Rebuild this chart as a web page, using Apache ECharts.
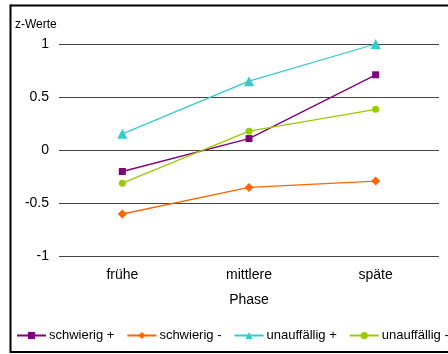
<!DOCTYPE html>
<html>
<head>
<meta charset="utf-8">
<script src="https://cdn.jsdelivr.net/npm/echarts@6/dist/echarts.min.js"></script>
<style>
  html, body { margin: 0; padding: 0; background: #fff; overflow: hidden; }
  #chart { width: 448px; height: 354px; }
</style>
</head>
<body>
<div id="chart"></div>
<script>
// Phases on the x axis
const phases = ['frühe', 'mittlere', 'späte'];

// z-scores per group and phase
const schwierigPlus = [-0.20, 0.11, 0.71];
const schwierigMinus = [-0.60, -0.35, -0.29];
const unauffaelligPlus = [0.155, 0.65, 1.0];
const unauffaelligMinus = [-0.31, 0.18, 0.385];

// y-axis ticks
const yMin = -1;
const yMax = 1;
const yStep = 0.5;

const font = 'Liberation Sans, Arial, sans-serif';

function lineSeries(name, data, color, symbol, size) {
  return {
    name: name,
    type: 'line',
    data: data,
    symbol: symbol,
    symbolSize: size,
    showAllSymbol: true,
    lineStyle: { color: color, width: 1.3 },
    itemStyle: { color: color },
    emphasis: { disabled: true },
    animation: false
  };
}

const chart = echarts.init(document.getElementById('chart'));
chart.setOption({
  animation: false,
  textStyle: { fontFamily: font },
  grid: { left: 59, right: 9, top: 44, bottom: 97.5 },
  xAxis: {
    type: 'category',
    data: phases,
    boundaryGap: true,
    axisLine: { show: false },
    axisTick: { show: false },
    axisLabel: { color: '#000', fontSize: 14, fontFamily: font, margin: 12 },
    name: 'Phase',
    nameLocation: 'middle',
    nameGap: 37,
    nameTextStyle: { color: '#000', fontSize: 14, fontFamily: font }
  },
  yAxis: {
    type: 'value',
    min: yMin,
    max: yMax,
    interval: yStep,
    axisLine: { show: false },
    axisTick: { show: false },
    axisLabel: { color: '#000', fontSize: 14, fontFamily: font, margin: 10 },
    splitLine: { lineStyle: { color: '#444', width: 1.2 } }
  },
  legend: {
    left: 16,
    top: 329,
    width: 700,
    itemWidth: 29,
    itemHeight: 9,
    itemGap: 12,
    padding: 0,
    textStyle: { color: '#000', fontSize: 13, fontFamily: font, padding: [0, 0, 0, -2] },
    data: ['schwierig +', 'schwierig -', 'unauffällig +', 'unauffällig -']
  },
  graphic: [
    {
      // frame: left, top and bottom edges; the right edge lies past the canvas
      type: 'line',
      shape: { x1: 10.5, y1: 5.5, x2: 500, y2: 5.5 },
      style: { stroke: '#000', lineWidth: 2 },
      silent: true
    },
    {
      type: 'line',
      shape: { x1: 10.5, y1: 4.5, x2: 10.5, y2: 353 },
      style: { stroke: '#000', lineWidth: 2 },
      silent: true
    },
    {
      type: 'line',
      shape: { x1: 10.5, y1: 352, x2: 500, y2: 352 },
      style: { stroke: '#000', lineWidth: 2 },
      silent: true
    },
    {
      type: 'text',
      left: 15,
      top: 19,
      style: { text: 'z-Werte', fill: '#000', font: '12px ' + font }
    }
  ],
  series: [
    lineSeries('schwierig +', schwierigPlus, '#800080', 'rect', 7),
    lineSeries('schwierig -', schwierigMinus, '#FF6600', 'diamond', 9),
    lineSeries('unauffällig +', unauffaelligPlus, '#33CCCC', 'triangle', 10),
    lineSeries('unauffällig -', unauffaelligMinus, '#99CC00', 'circle', 7)
  ]
});
</script>
</body>
</html>
